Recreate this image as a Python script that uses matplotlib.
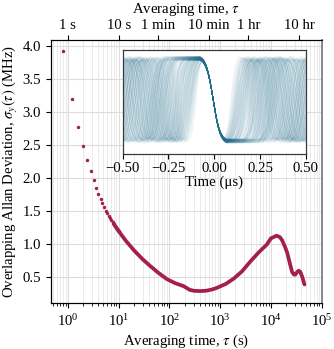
import numpy as np
import matplotlib
matplotlib.use('Agg')
import matplotlib.pyplot as plt
from matplotlib.ticker import NullLocator, NullFormatter

plt.rcParams['font.family'] = ['Liberation Serif', 'DejaVu Serif']
plt.rcParams['mathtext.fontset'] = 'stix'
plt.rcParams['font.size'] = 10.6

# overlapping Allan deviation, short taus drawn as separate dots (s, MHz)
tau_dots = [0.8, 1.2, 1.6, 2.0, 2.4, 2.8, 3.2, 3.6, 4.0, 4.4, 4.8, 5.2, 5.6, 6.0, 6.4,
            6.8, 7.2, 7.6, 8.0, 8.4, 8.8, 9.2, 9.6, 10.0]
adev_dots = [3.92, 3.20, 2.77, 2.48, 2.27, 2.10, 1.97, 1.85, 1.76, 1.68, 1.61, 1.55, 1.50,
             1.46, 1.42, 1.39, 1.36, 1.33, 1.30, 1.27, 1.25, 1.23, 1.21, 1.19]

# the rest of the curve, dense enough that it reads as a thick line
tau_line = [8.0, 10, 14, 20, 30, 42, 60, 90, 130, 190, 250, 300, 400, 530, 700,
            870, 1300, 1860, 2700, 3950, 5800, 8400, 10000, 12900, 15000, 16700,
            19000, 21000, 24000, 26200, 28500, 30300, 33000, 35300, 38000, 41300,
            43500, 45900]
adev_line = [1.30, 1.19, 1.04, 0.90, 0.76, 0.66, 0.56, 0.46, 0.40, 0.355, 0.30,
             0.285, 0.28, 0.285, 0.305, 0.33, 0.39, 0.47, 0.58, 0.73, 0.87, 0.99, 1.08,
             1.12, 1.10, 1.05, 0.95, 0.86, 0.68, 0.57, 0.53, 0.53, 0.57, 0.59, 0.57,
             0.50, 0.44, 0.38]

top_ticks = [1, 10, 60, 600, 3600, 36000]
top_labels = ['1 s', '10 s', '1 min', '10 min', '1 hr', '10 hr']

# inset: overlaid scan traces (time in us, normalised signal)
inset_ticks = [-0.5, -0.25, 0.0, 0.25, 0.5]
inset_labels = ['\u22120.50', '\u22120.25', '0.00', '0.25', '0.50']
edge_start, edge_end = -0.078, 0.066
half_periods = [0.085, 0.170, 0.105, 0.150, 0.092, 0.128, 0.185, 0.100, 0.140, 0.118,
                0.162, 0.088, 0.133, 0.112, 0.156]
turns_right = [0.055, 0.150, 0.075, 0.210, 0.100, 0.175, 0.062, 0.125, 0.240, 0.088,
               0.160, 0.195, 0.068, 0.112, 0.260]
turns_left = [-0.065, -0.165, -0.085, -0.220, -0.110, -0.190, -0.072, -0.135, -0.250,
              -0.098, -0.150, -0.205, -0.078, -0.122, -0.270]
amps = [1.00, 0.95, 0.98, 0.92, 0.97, 0.94, 0.99, 0.91, 0.96, 0.93,
        0.98, 0.95, 0.92, 0.97, 0.94]

red = '#a41f4d'
teal = '#1c6e90'

fig = plt.figure(figsize=(3.34, 3.49), dpi=100)
ax = fig.add_axes([0.152, 0.132, 0.811, 0.753])

ax.plot(tau_dots, adev_dots, 'o', color=red, ms=2.5, mec='none')
ax.plot(tau_line, adev_line, '-', color=red, lw=2.7, solid_capstyle='round')

ax.set_xscale('log')
ax.set_xlim(0.46, 1e5)
ax.set_ylim(0.1, 4.09)
ax.set_yticks([0.5, 1.0, 1.5, 2.0, 2.5, 3.0, 3.5, 4.0])
ax.grid(which='major', color='#dcdcdc', lw=0.8)
ax.grid(which='minor', axis='x', color='#e6e6e6', lw=0.6)
ax.set_axisbelow(True)
ax.tick_params(which='major', direction='out', length=3.5, width=0.8)
ax.tick_params(which='minor', direction='out', length=2, width=0.6)
ax.set_xlabel('Averaging time, $\\tau$ (s)', labelpad=3)
ax.set_ylabel('Overlapping Allan Deviation, $\\sigma_y(\\tau)$ (MHz)', labelpad=2)

ax_top = ax.twiny()
ax_top.set_xscale('log')
ax_top.set_xlim(ax.get_xlim())
ax_top.set_xticks(top_ticks)
ax_top.set_xticklabels(top_labels)
ax_top.xaxis.set_minor_locator(NullLocator())
ax_top.xaxis.set_minor_formatter(NullFormatter())
ax_top.tick_params(which='major', direction='out', length=3.5, width=0.8, pad=2)
ax_top.set_xlabel('Averaging time, $\\tau$', labelpad=5)

for a in (ax, ax_top):
    for side in ('left', 'bottom', 'top'):
        a.spines[side].set_linewidth(0.8)
    a.spines['right'].set_color('#8a8a8a')
    a.spines['right'].set_linewidth(1.4)

axin = fig.add_axes([0.367, 0.559, 0.549, 0.298])
axin.set_facecolor('white')
t = np.linspace(-0.5, 0.5, 1001)
n = len(half_periods)
for i in range(n):
    for j in range(n):
        tri = np.interp(t, [edge_start, edge_end], [1, -1])
        # right of the edge: turn round at turns_right and scan up and down
        tr, h = turns_right[j], half_periods[i]
        c = np.interp(tr, [edge_start, edge_end], [1, -1])
        m = t > tr
        ph = (c + 1) / 2 + (t[m] - tr) / h
        tri[m] = 2 * np.abs(((ph + 1) % 2) - 1) - 1
        # left of the edge, the lists paired the other way round
        tl, h = turns_left[n - 1 - i], half_periods[n - 1 - j]
        c = np.interp(tl, [edge_start, edge_end], [1, -1])
        m = t < tl
        ph = (1 - c) / 2 + (tl - t[m]) / h
        tri[m] = 1 - 2 * np.abs(((ph + 1) % 2) - 1)
        y = amps[(i + j) % n] * np.tanh(1.9 * tri)
        axin.plot(t, y, color=teal, alpha=0.045, lw=0.6)

axin.set_xlim(-0.5, 0.5)
axin.set_ylim(-1.2, 1.1)
axin.set_yticks([])
axin.set_xticks(inset_ticks)
axin.set_xticklabels(inset_labels)
axin.tick_params(direction='out', length=3.5, width=0.8, pad=2)
axin.set_xlabel('Time (\u03bcs)', labelpad=1)
for s in axin.spines.values():
    s.set_color('#3a3a3a')
    s.set_linewidth(0.9)

fig.savefig('out.png', dpi=100)
